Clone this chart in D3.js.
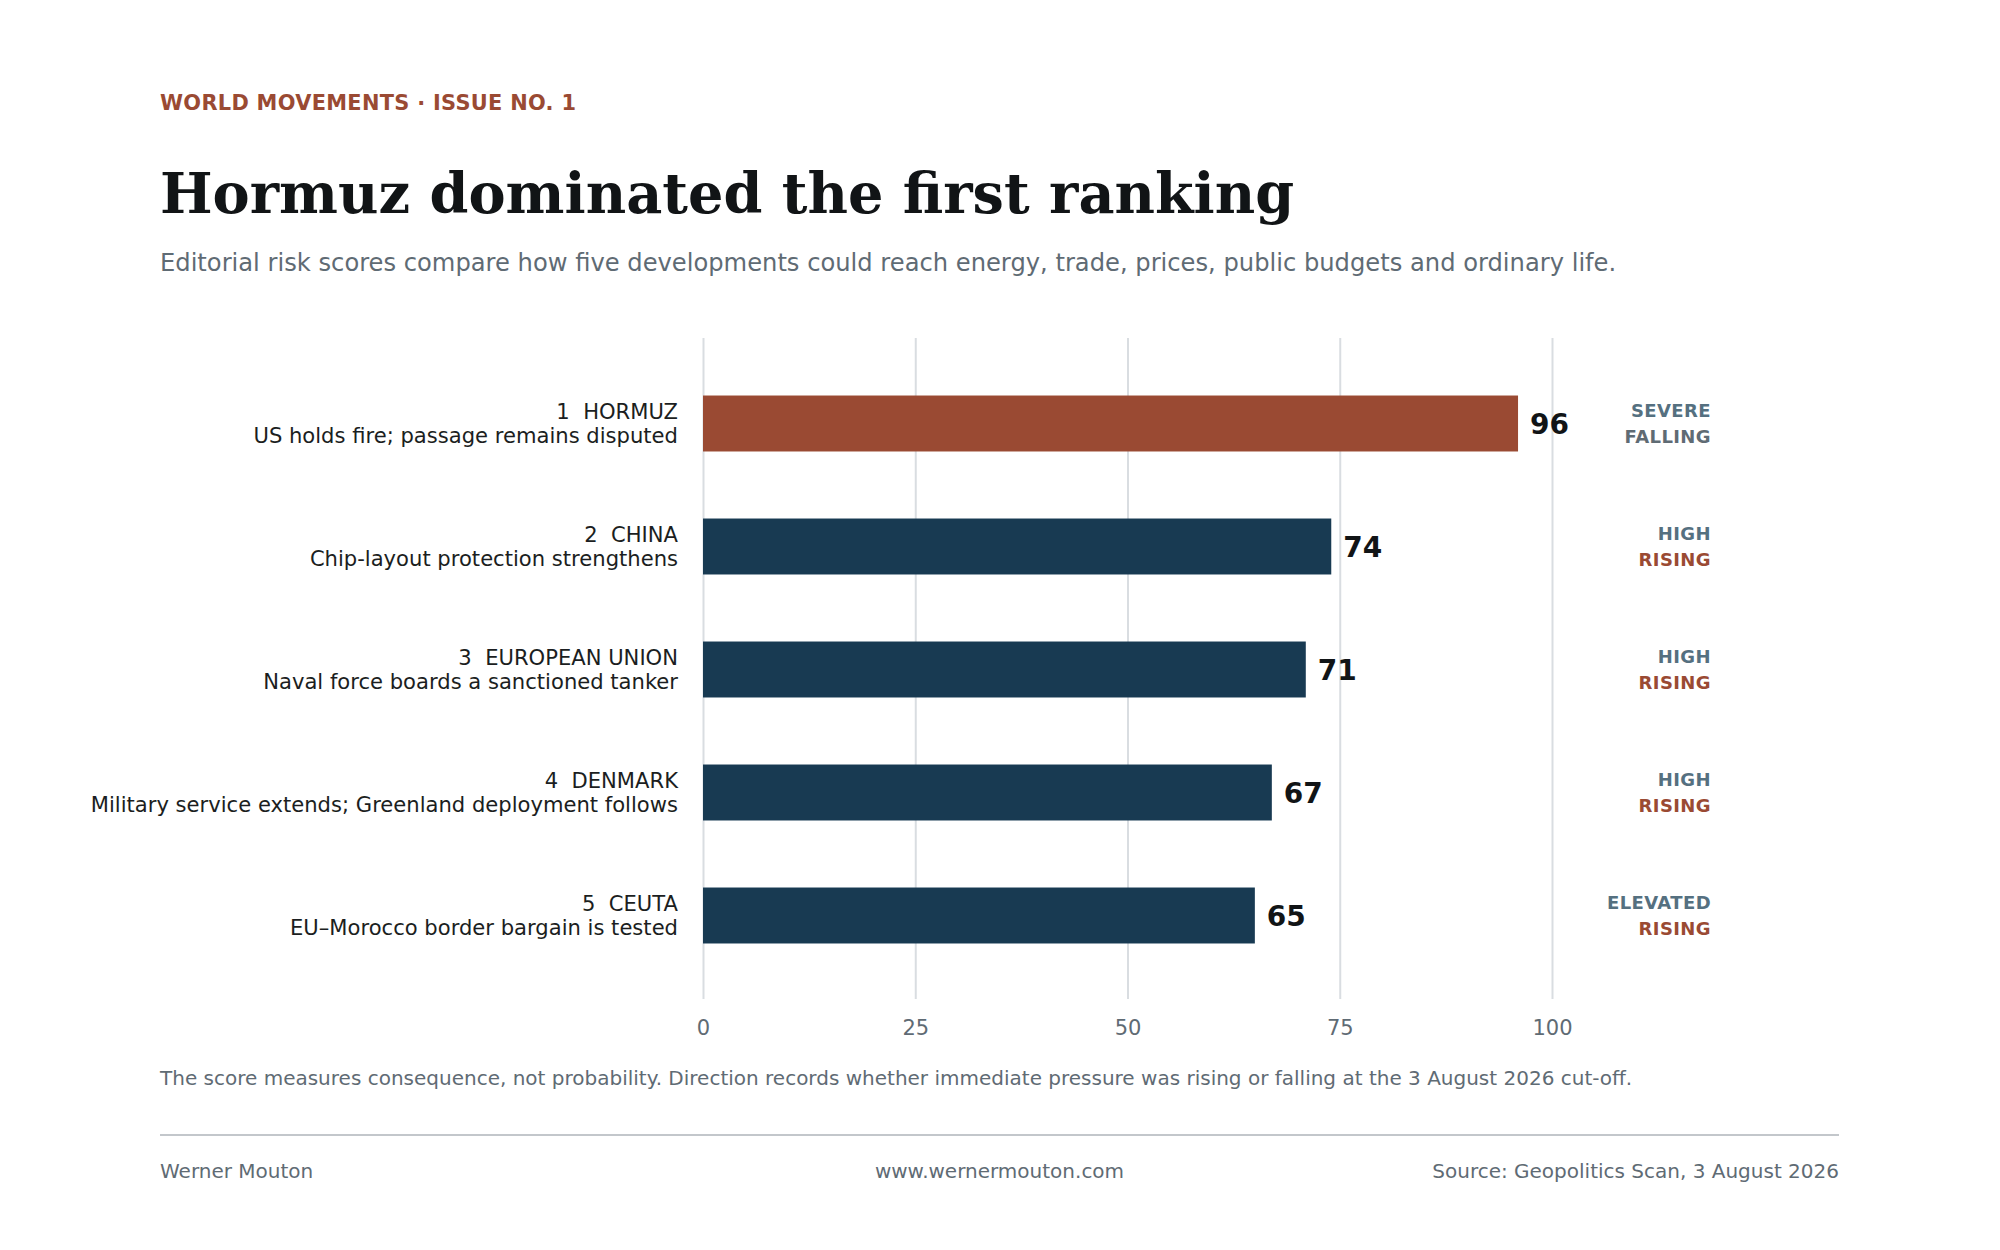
<!DOCTYPE html>
<html>
<head>
<meta charset="utf-8">
<script src="https://cdn.jsdelivr.net/npm/d3@7"></script>
<style>
  body { margin: 0; background: #fff; }
  text { font-family: "DejaVu Sans", sans-serif; }
</style>
</head>
<body>
<script>
const ranks = [1, 2, 3, 4, 5];
const places = ["HORMUZ", "CHINA", "EUROPEAN UNION", "DENMARK", "CEUTA"];
const headlines = [
  "US holds fire; passage remains disputed",
  "Chip-layout protection strengthens",
  "Naval force boards a sanctioned tanker",
  "Military service extends; Greenland deployment follows",
  "EU\u2013Morocco border bargain is tested"
];
const scores = [96, 74, 71, 67, 65];
const severity = ["SEVERE", "HIGH", "HIGH", "HIGH", "ELEVATED"];
const direction = ["FALLING", "RISING", "RISING", "RISING", "RISING"];
const tickValues = [0, 25, 50, 75, 100];

const colors = {
  rust: "#9a4a33",
  navy: "#183a52",
  slate: "#557080",
  grey: "#5f6b74",
  ink: "#111416",
  grid: "#d9dde1"
};

const w = 2000;
const h = 1250;
const left = 160;
const right = 1839;

const rows = places.map((p, i) => ({
  rank: ranks[i],
  place: p,
  headline: headlines[i],
  score: scores[i],
  severity: severity[i],
  direction: direction[i]
}));

const svg = d3.select("body").append("svg")
  .attr("width", w)
  .attr("height", h);

// header
svg.append("text")
  .attr("x", left).attr("y", 110)
  .attr("fill", colors.rust)
  .attr("font-size", 20.9)
  .attr("font-weight", "bold")
  .attr("letter-spacing", 0.3)
  .text("WORLD MOVEMENTS \u00b7 ISSUE NO. 1");

svg.append("text")
  .attr("x", left).attr("y", 213)
  .attr("fill", colors.ink)
  .attr("font-size", 55.7)
  .attr("font-weight", "bold")
  .style("font-family", "'DejaVu Serif', serif")
  .text("Hormuz dominated the first ranking");

svg.append("text")
  .attr("x", left).attr("y", 271)
  .attr("fill", colors.grey)
  .attr("font-size", 24.2)
  .text("Editorial risk scores compare how five developments could reach energy, trade, prices, public budgets and ordinary life.");

// chart
const x = d3.scaleLinear().domain([0, 100]).range([703, 1552]);
const y = d3.scaleBand()
  .domain(places)
  .range([362, 977])
  .paddingInner(0.545)
  .paddingOuter(0.2725);

const gridTop = 338, gridBottom = 999;

const xAxis = d3.axisBottom(x)
  .tickValues(tickValues)
  .tickSize(-(gridBottom - gridTop))
  .tickPadding(21);

svg.append("g")
  .attr("transform", `translate(0,${gridBottom})`)
  .call(xAxis)
  .call(g => g.select(".domain").remove())
  .call(g => g.selectAll(".tick line").attr("stroke", colors.grid).attr("stroke-width", 2))
  .call(g => g.selectAll(".tick text")
    .attr("fill", colors.grey)
    .attr("font-size", 21)
    .attr("dy", "0.71em")
    .style("font-family", "'DejaVu Sans', sans-serif"));

svg.selectAll("rect.bar")
  .data(rows)
  .enter()
  .append("rect")
  .attr("class", "bar")
  .attr("x", x(0))
  .attr("y", d => y(d.place))
  .attr("width", d => x(d.score) - x(0))
  .attr("height", y.bandwidth())
  .attr("fill", (d, i) => i === 0 ? colors.rust : colors.navy);

const mid = d => y(d.place) + y.bandwidth() / 2;

const labels = svg.selectAll("g.label")
  .data(rows)
  .enter()
  .append("g")
  .attr("class", "label");

labels.append("text")
  .attr("x", 678)
  .attr("y", d => mid(d) - 5)
  .attr("text-anchor", "end")
  .attr("fill", "#1b1e21")
  .attr("font-size", 21.1)
  .style("white-space", "pre")
  .text(d => `${d.rank}  ${d.place}`);

labels.append("text")
  .attr("x", 678)
  .attr("y", d => mid(d) + 19)
  .attr("text-anchor", "end")
  .attr("fill", "#1b1e21")
  .attr("font-size", 21.1)
  .text(d => d.headline);

svg.selectAll("text.value")
  .data(rows)
  .enter()
  .append("text")
  .attr("class", "value")
  .attr("x", d => x(d.score) + 12)
  .attr("y", d => mid(d) + 10)
  .attr("fill", colors.ink)
  .attr("font-size", 28)
  .attr("font-weight", "bold")
  .text(d => d.score);

svg.selectAll("text.sev")
  .data(rows)
  .enter()
  .append("text")
  .attr("class", "sev")
  .attr("x", 1711)
  .attr("y", d => mid(d) - 7)
  .attr("text-anchor", "end")
  .attr("fill", colors.slate)
  .attr("font-size", 18)
  .attr("font-weight", "bold")
  .attr("letter-spacing", 0.4)
  .text(d => d.severity);

svg.selectAll("text.dir")
  .data(rows)
  .enter()
  .append("text")
  .attr("class", "dir")
  .attr("x", 1711)
  .attr("y", d => mid(d) + 19)
  .attr("text-anchor", "end")
  .attr("fill", d => d.direction === "RISING" ? colors.rust : colors.grey)
  .attr("font-size", 18)
  .attr("font-weight", "bold")
  .attr("letter-spacing", 0.4)
  .text(d => d.direction);

// footer
svg.append("text")
  .attr("x", left).attr("y", 1085)
  .attr("fill", colors.grey)
  .attr("font-size", 20)
  .text("The score measures consequence, not probability. Direction records whether immediate pressure was rising or falling at the 3 August 2026 cut-off.");

svg.append("line")
  .attr("x1", left).attr("x2", right)
  .attr("y1", 1135).attr("y2", 1135)
  .attr("stroke", "#c3c7cb")
  .attr("stroke-width", 2);

const footer = [
  { t: "Werner Mouton", x: left, a: "start" },
  { t: "www.wernermouton.com", x: (left + right) / 2, a: "middle" },
  { t: "Source: Geopolitics Scan, 3 August 2026", x: right, a: "end" }
];

svg.selectAll("text.foot")
  .data(footer)
  .enter()
  .append("text")
  .attr("class", "foot")
  .attr("x", d => d.x)
  .attr("y", 1178)
  .attr("text-anchor", d => d.a)
  .attr("fill", colors.grey)
  .attr("font-size", 20)
  .text(d => d.t);
</script>
</body>
</html>
